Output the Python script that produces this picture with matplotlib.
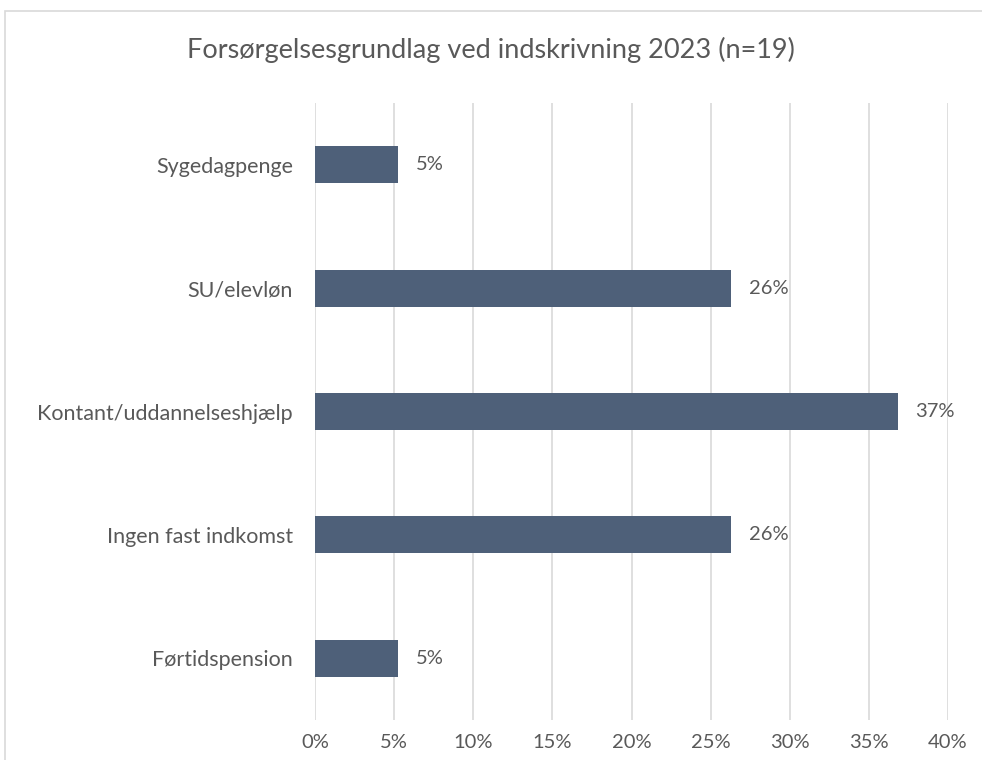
import matplotlib.pyplot as plt
from matplotlib.patches import Rectangle

# data (n=19)
categories = ['Førtidspension', 'Ingen fast indkomst', 'Kontant/uddannelseshjælp',
              'SU/elevløn', 'Sygedagpenge']
counts = [1, 5, 7, 5, 1]
n = 19
shares = [c / n * 100 for c in counts]
xticks = [0, 5, 10, 15, 20, 25, 30, 35, 40]

plt.rcParams['font.family'] = ['Lato', 'DejaVu Sans']
grey = '#595959'

fig = plt.figure(figsize=(9.82, 7.6), dpi=100)
ax = fig.add_axes([0.3208, 0.0526, 0.6446, 0.8119])

ax.barh(range(len(categories)), shares, height=0.3, color='#4E6079', zorder=3)
for i, v in enumerate(shares):
    ax.text(v + 1.1, i, f'{v:.0f}%', va='center', ha='left', fontsize=14.5, color=grey)

ax.set_xlim(0, 40)
ax.set_ylim(-0.5, len(categories) - 0.5)
ax.set_xticks(xticks)
ax.set_xticklabels([f'{t}%' for t in xticks], fontsize=14.5, color=grey)
ax.set_yticks(range(len(categories)))
ax.set_yticklabels(categories, fontsize=15.5, color=grey)
ax.tick_params(length=0, pad=16, axis='y')
ax.tick_params(length=0, pad=10, axis='x')
ax.grid(axis='x', color='#D9D9D9', lw=1.2, zorder=0)
for s in ax.spines.values():
    s.set_visible(False)

fig.text(0.5, 0.934, 'Forsørgelsesgrundlag ved indskrivning 2023 (n=19)',
         ha='center', va='center', fontsize=19.5, color=grey)

# chart border (cut at right/bottom like the original)
fig.patches.append(Rectangle((5 / 982, -0.1), 1.2, 1.1 - 11 / 760, transform=fig.transFigure,
                             fill=False, edgecolor='#D9D9D9', lw=1.2))

fig.savefig('out.png')
